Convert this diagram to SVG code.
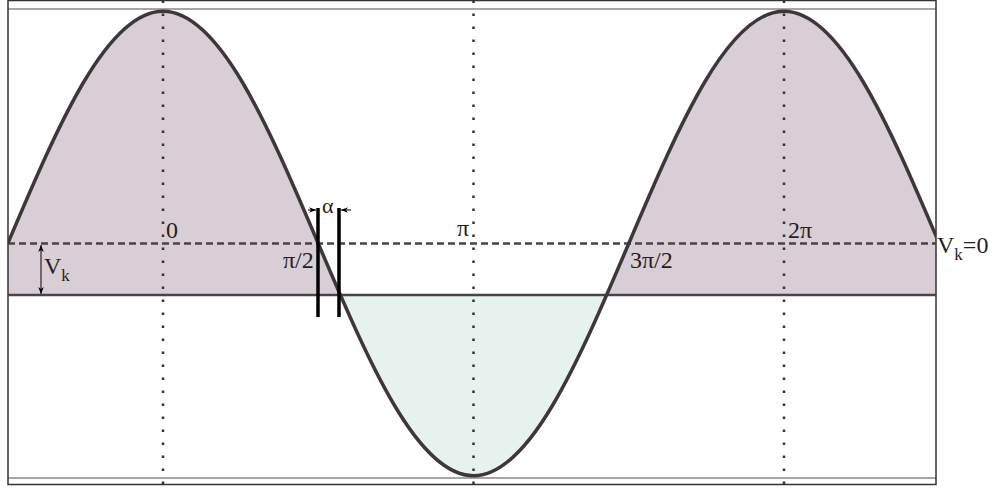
<svg xmlns="http://www.w3.org/2000/svg" width="995" height="489" viewBox="0 0 995 489">
<style>
text{font-family:"Liberation Serif","Times New Roman",serif;fill:#231f20;font-size:24px}
.sub{font-size:17px}
.dot{stroke:#333;stroke-width:2.5;stroke-dasharray:2.5 10.5;fill:none}
.bar{stroke:#000;stroke-width:3.5}
.thin{stroke:#000;stroke-width:1;fill:none}
</style>
<defs>
<clipPath id="cTop"><rect x="8" y="0" width="928" height="295"/></clipPath>
<clipPath id="cBot"><rect x="8" y="295" width="928" height="194"/></clipPath>
<clipPath id="cAll"><rect x="8" y="0" width="928" height="489"/></clipPath>
<marker id="ah" viewBox="0 0 10 10" refX="10" refY="5" markerWidth="7" markerHeight="7" orient="auto-start-reverse" markerUnits="userSpaceOnUse"><path d="M0,1 L10,5 L0,9 L3,5 Z" fill="#000"/></marker>
<path id="wave" d="M7.75,243.5 C58.38,124.52 106.81,11.25 163,11.25 C219.19,11.25 267.62,124.52 318.25,243.5 C368.88,362.48 417.31,475.75 473.5,475.75 C529.69,475.75 578.12,362.48 628.75,243.5 C679.38,124.52 727.81,11.25 784,11.25 C840.19,11.25 888.62,124.52 939.25,243.5"/>
</defs>
<g id="fills">
<path clip-path="url(#cTop)" fill="#d9cdd6" d="M7.75,243.5 C58.38,124.52 106.81,11.25 163,11.25 C219.19,11.25 267.62,124.52 318.25,243.5 C368.88,362.48 417.31,475.75 473.5,475.75 C529.69,475.75 578.12,362.48 628.75,243.5 C679.38,124.52 727.81,11.25 784,11.25 C840.19,11.25 888.62,124.52 939.25,243.5 L939.25,295 L7.75,295 Z"/>
<path clip-path="url(#cBot)" fill="#e6f2ee" d="M7.75,243.5 C58.38,124.52 106.81,11.25 163,11.25 C219.19,11.25 267.62,124.52 318.25,243.5 C368.88,362.48 417.31,475.75 473.5,475.75 C529.69,475.75 578.12,362.48 628.75,243.5 C679.38,124.52 727.81,11.25 784,11.25 C840.19,11.25 888.62,124.52 939.25,243.5 L939.25,295 L7.75,295 Z"/>
</g>
<g id="frame">
<line x1="8" y1="9" x2="936" y2="9" stroke="#888" stroke-width="1.5"/>
<line x1="8" y1="478" x2="936" y2="478" stroke="#888" stroke-width="1.5"/>
<rect x="8" y="0.5" width="928" height="484" fill="none" stroke="#333" stroke-width="1.5"/>
</g>
<g id="gridlines">
<line class="dot" x1="163" y1="0.5" x2="163" y2="489"/>
<line class="dot" x1="473.5" y1="0.5" x2="473.5" y2="489"/>
<line class="dot" x1="784" y1="0.5" x2="784" y2="489"/>
<line x1="8" y1="243.5" x2="936" y2="243.5" stroke="#4a4347" stroke-width="2.5" stroke-dasharray="7 4"/>
<line x1="8" y1="295" x2="936" y2="295" stroke="#4a4347" stroke-width="2.5"/>
</g>
<g id="curve">
<use href="#wave" clip-path="url(#cAll)" fill="none" stroke="#3e3639" stroke-width="3.5"/>
</g>
<g id="connectors">
<line class="bar" x1="318" y1="208" x2="318" y2="317"/>
<line class="bar" x1="339" y1="208" x2="339" y2="317"/>
<line class="thin" x1="308" y1="210" x2="316" y2="210" marker-end="url(#ah)"/>
<line class="thin" x1="351" y1="210" x2="341" y2="210" marker-end="url(#ah)"/>
<line x1="41" y1="245" x2="41" y2="294" stroke="#2a2226" stroke-width="1.2" marker-start="url(#ah)" marker-end="url(#ah)"/>
</g>
<g id="labels">
<text x="166" y="238">0</text>
<text x="457" y="236">π</text>
<text x="283" y="268">π/2</text>
<text x="630" y="268">3π/2</text>
<text x="788" y="238">2π</text>
<text x="322" y="213" style="font-size:22px">α</text>
<text x="44" y="274">V<tspan class="sub" dy="7">k</tspan></text>
<text x="937" y="253">V<tspan class="sub" dy="7">k</tspan><tspan dy="-7">=0</tspan></text>
</g>
</svg>
